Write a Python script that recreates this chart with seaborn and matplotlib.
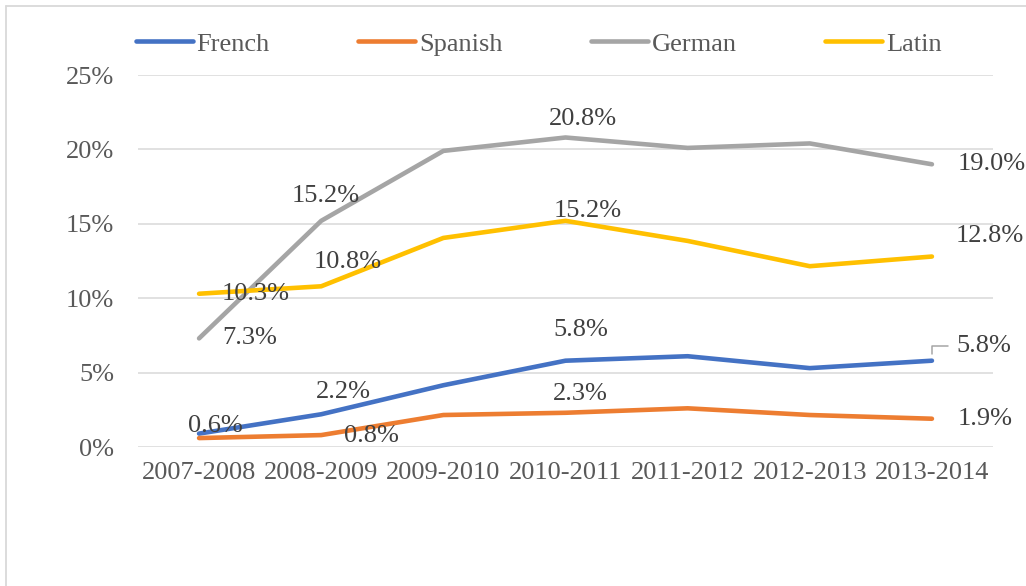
import pandas as pd
import numpy as np
import matplotlib
matplotlib.use("Agg")
import matplotlib.pyplot as plt
from matplotlib.lines import Line2D
from matplotlib.ticker import PercentFormatter
import seaborn as sns

# data (percent)
years = ["2007-2008", "2008-2009", "2009-2010", "2010-2011",
         "2011-2012", "2012-2013", "2013-2014"]
french = [0.9, 2.2, 4.15, 5.8, 6.1, 5.3, 5.8]
spanish = [0.6, 0.8, 2.15, 2.3, 2.6, 2.15, 1.9]
german = [7.3, 15.2, 19.9, 20.8, 20.1, 20.4, 19.0]
latin = [10.3, 10.8, 14.05, 15.2, 13.85, 12.15, 12.8]
languages = ["French", "Spanish", "German", "Latin"]
colors = ["#4472C4", "#ED7D31", "#A5A5A5", "#FFC000"]

# which points carry a value label, and where the label sits (pixels)
label_layout = {
    "French": {1: (22, 22, "center"), 3: (15, 31, "center"), 6: (24, 15, "leader")},
    "Spanish": {0: (16, 12, "center"), 1: (50, -1, "center"), 3: (15, 19, "center"), 6: (26, 0, "left")},
    "German": {0: (23, 0, "left"), 1: (5, 25, "center"), 3: (17, 18, "center"), 6: (26, 0, "left")},
    "Latin": {0: (23, 0, "left"), 1: (27, 24, "center"), 3: (22, 10, "center"), 6: (24, 21, "left")},
}

series = {"French": french, "Spanish": spanish, "German": german, "Latin": latin}
df = pd.concat(
    [pd.DataFrame({"year": years, "share": vals, "language": name}) for name, vals in series.items()],
    ignore_index=True,
)
df["pos"] = df["year"].map({y: i for i, y in enumerate(years)})

sns.set_style("white")
plt.rcParams["font.family"] = ["Liberation Serif", "DejaVu Serif"]
FS = 19

fig = plt.figure(figsize=(10.26, 5.86), dpi=100)
ax = fig.add_axes([138 / 1026, 139 / 586, 855 / 1026, 372 / 586])

sns.lineplot(data=df, x="pos", y="share", hue="language", hue_order=languages,
             palette=colors, linewidth=3.3, ax=ax, legend=False,
             solid_capstyle="round", solid_joinstyle="round", zorder=3)

ax.set_xlim(-0.5, len(years) - 0.5)
ax.set_ylim(0, 25)
ax.set_yticks([0, 5, 10, 15, 20, 25])
ax.yaxis.set_major_formatter(PercentFormatter(decimals=0))
ax.set_xticks(range(len(years)))
ax.set_xticklabels(years)
ax.set_xlabel("")
ax.set_ylabel("")
ax.grid(axis="y", color="#D9D9D9", linewidth=1.1, zorder=0)
ax.grid(axis="x", visible=False)
for s in ax.spines.values():
    s.set_visible(False)
ax.tick_params(axis="both", length=0, labelsize=FS, labelcolor="#595959")
ax.tick_params(axis="x", pad=11)
ax.tick_params(axis="y", pad=17)

# value labels
for name, col in zip(languages, colors):
    vals = series[name]
    for idx, (dx, dy, kind) in label_layout[name].items():
        txt = f"{vals[idx]:.1f}%"
        if kind == "leader":
            ax.annotate(txt, xy=(idx, vals[idx]), xytext=(dx, dy), textcoords="offset pixels",
                        ha="left", va="center", fontsize=FS, color="#404040", zorder=5,
                        arrowprops=dict(arrowstyle="-", color="#A5A5A5", lw=1.1,
                                        connectionstyle="angle,angleA=0,angleB=90,rad=0",
                                        shrinkA=3, shrinkB=5))
        else:
            ax.annotate(txt, xy=(idx, vals[idx]), xytext=(dx, dy), textcoords="offset pixels",
                        ha=kind, va="center", fontsize=FS, color="#404040", zorder=5)

# legend across the top
handles = [Line2D([0], [0], color=c, lw=3.3, solid_capstyle="round") for c in colors]
fig.legend(handles, languages, loc="center left", bbox_to_anchor=(136 / 1026, 1 - 44 / 586),
           ncol=4, frameon=False, fontsize=FS, labelcolor="#595959",
           handlelength=2.15, handletextpad=0.15, columnspacing=3.35,
           borderpad=0, borderaxespad=0)

# chart frame (only top and left edges fall inside the picture)
fig.add_artist(Line2D([5.5 / 1026, 5.5 / 1026], [0, 1 - 5.5 / 586], color="#D9D9D9", lw=1.3,
                      transform=fig.transFigure))
fig.add_artist(Line2D([5.5 / 1026, 1], [1 - 5.5 / 586, 1 - 5.5 / 586], color="#D9D9D9", lw=1.3,
                      transform=fig.transFigure))

fig.savefig("out.png", dpi=100)
